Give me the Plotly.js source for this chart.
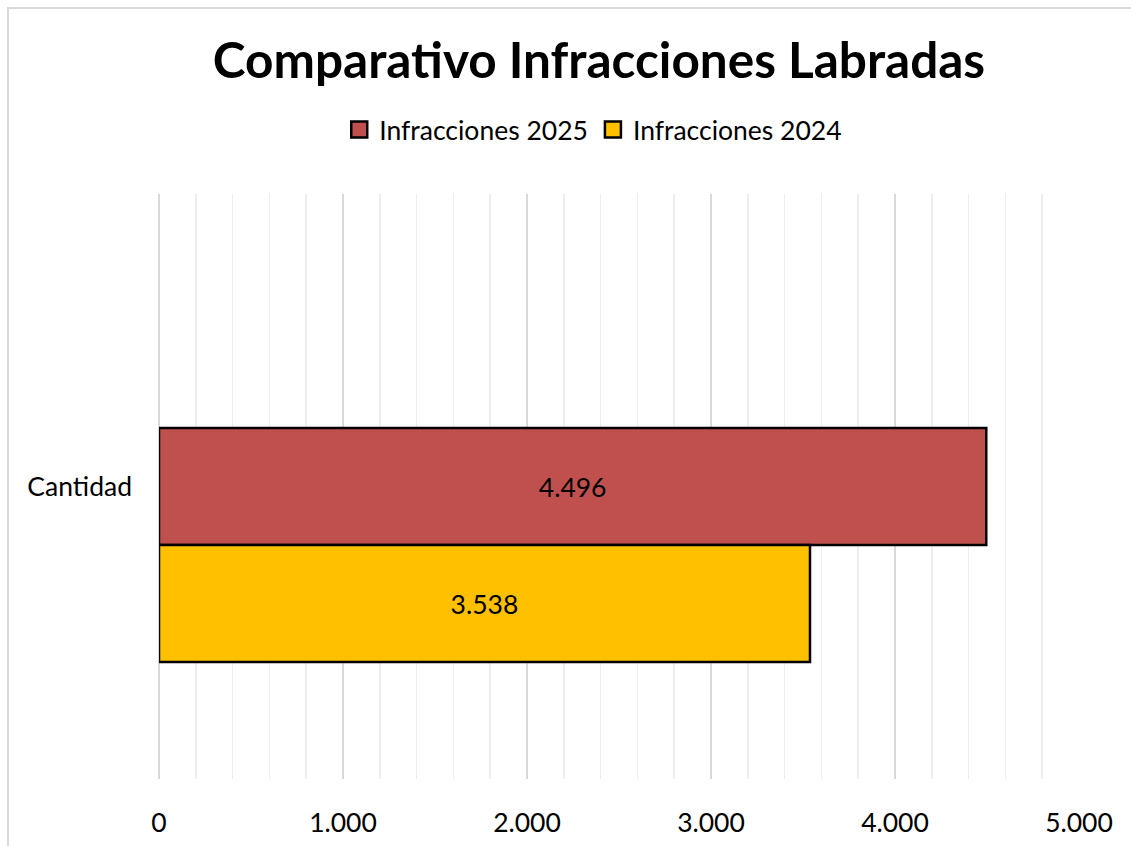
<!DOCTYPE html>
<html>
<head>
<meta charset="utf-8">
<script src="https://cdn.plot.ly/plotly-3.0.1.min.js"></script>
<style>
html,body{margin:0;padding:0;background:#fff;}
#frame{position:absolute;left:7px;top:7px;width:1140px;height:860px;border:2px solid #d9d9d9;box-sizing:border-box;}
#chart{position:absolute;left:0;top:0;width:1131px;height:846px;}
</style>
</head>
<body>
<div id="frame"></div>
<div id="chart"></div>
<script>
const categories = ["Cantidad"];
const seriesNames = ["Infracciones 2025", "Infracciones 2024"];
const seriesColors = ["#C0504D", "#FFC000"];
const values2025 = [4496];
const values2024 = [3538];
const xTickVals = [0, 1000, 2000, 3000, 4000, 5000];

const font = "Lato, 'Open Sans', sans-serif";
const fs = 26.5;

const common = {
  type: "bar",
  orientation: "h",
  y: categories,
  width: 0.2,
  texttemplate: "%{x:,}",
  textposition: "inside",
  insidetextanchor: "middle",
  textfont: {family: font, size: fs, color: "#000"},
  hoverinfo: "skip",
  showlegend: false
};

const data = [
  Object.assign({}, common, {
    name: seriesNames[0], x: values2025, offset: -0.1,
    marker: {color: seriesColors[0], line: {color: "#000", width: 2.5}}
  }),
  Object.assign({}, common, {
    name: seriesNames[1], x: values2024, offset: -0.3,
    marker: {color: seriesColors[1], line: {color: "#000", width: 2.5}}
  })
];
// legend entries with larger square swatches
seriesNames.forEach((n, i) => {
  data.push({
    type: "scatter", mode: "markers", name: n,
    x: [null], y: [null],
    marker: {symbol: "square", size: 16, color: seriesColors[i], line: {color: "#000", width: 2.5}},
    hoverinfo: "skip", showlegend: true
  });
});

const layout = {
  width: 1131, height: 846,
  paper_bgcolor: "rgba(0,0,0,0)", plot_bgcolor: "rgba(0,0,0,0)",
  separators: ",.",
  margin: {l: 159, r: 52, t: 194, b: 67, pad: 0},
  barmode: "overlay",
  showlegend: true,
  title: {
    text: "<b>Comparativo Infracciones Labradas</b>",
    font: {family: font, size: 49.5, color: "#000"},
    x: 0.5296, xanchor: "center", y: 0.928, yanchor: "middle"
  },
  legend: {
    orientation: "h", x: 0.472, xanchor: "center", y: 1.11, yanchor: "middle",
    font: {family: font, size: fs, color: "#000"},
    traceorder: "normal", itemwidth: 30
  },
  xaxis: {
    range: [0, 5000], tickvals: xTickVals, tickformat: ",d",
    showgrid: true, gridcolor: "#d9d9d9", gridwidth: 2,
    zeroline: true, zerolinecolor: "#d9d9d9", zerolinewidth: 2,
    showline: false, ticks: "",
    ticklabelstandoff: 25,
    tickfont: {family: font, size: fs, color: "#000"},
    minor: {dtick: 200, showgrid: true, gridcolor: "#eeeeee", gridwidth: 1.5},
    fixedrange: true
  },
  yaxis: {
    type: "category", range: [-0.5, 0.5],
    showgrid: false, zeroline: false, showline: false, ticks: "",
    ticklabelstandoff: 26,
    tickfont: {family: font, size: fs, color: "#000"},
    fixedrange: true
  }
};

Plotly.newPlot("chart", data, layout, {displayModeBar: false, staticPlot: true});
</script>
</body>
</html>
